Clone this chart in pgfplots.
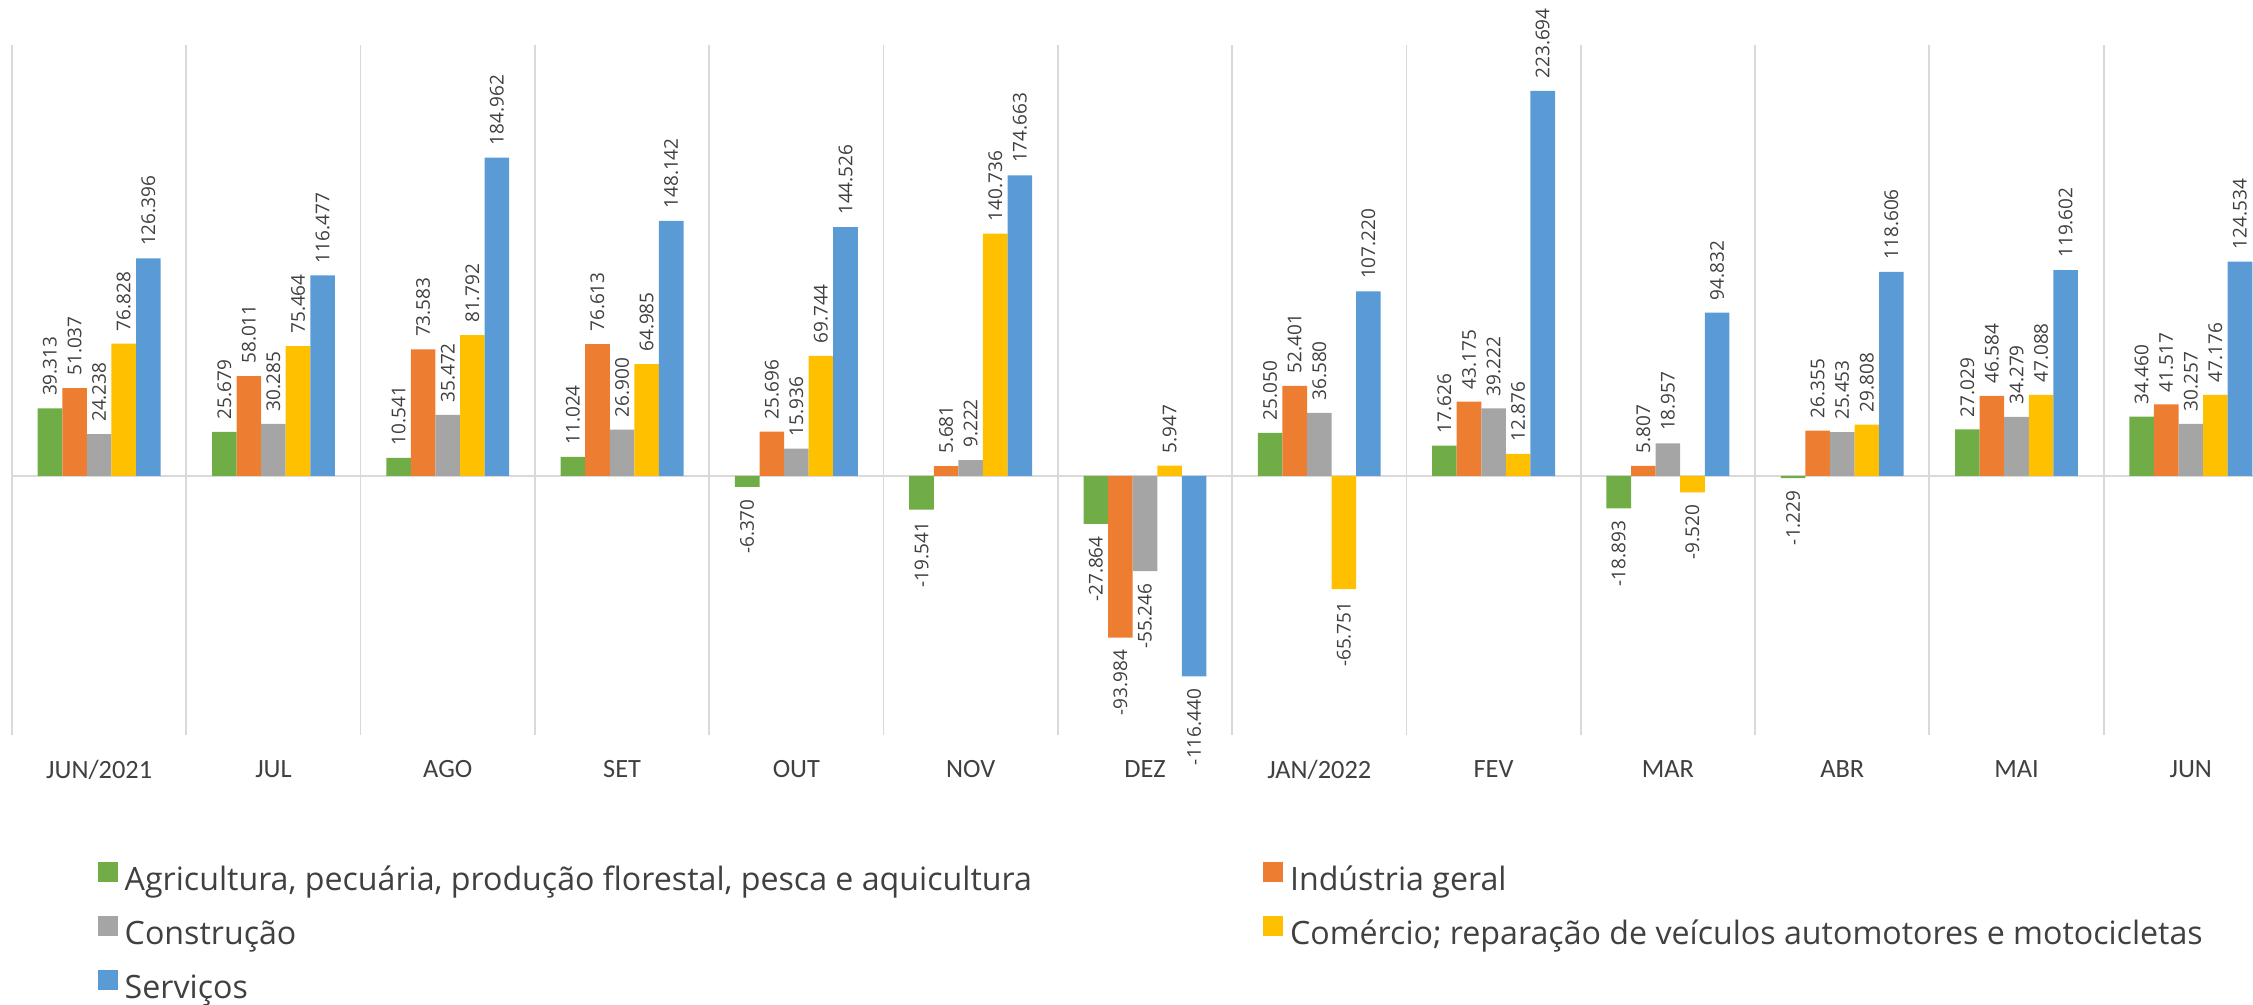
\documentclass[border=0pt]{standalone}
\usepackage{pgfplots}
\pgfplotsset{compat=1.18}
\usepackage{fontspec}
\setmainfont{Carlito}
\newfontfamily\opensans{Open Sans}
\definecolor{cAgr}{HTML}{70AD47}
\definecolor{cInd}{HTML}{ED7D31}
\definecolor{cCon}{HTML}{A5A5A5}
\definecolor{cCom}{HTML}{FFC000}
\definecolor{cSer}{HTML}{5B9BD5}
\definecolor{gridc}{HTML}{D9D9D9}
\definecolor{txtc}{HTML}{404040}
\begin{document}
\begin{tikzpicture}
\useasboundingbox (-0.12,-2.70) rectangle (22.41,7.35);
\begin{axis}[
    at={(0,0)}, anchor=south west,
    scale only axis,
    width=22.44cm, height=6.9cm,
    xmin=-0.5, xmax=12.374,
    ymin=-150.5, ymax=250.4,
    ybar=0pt,
    bar width=0.141,
    axis line style={draw=none},
    major tick length=0pt, minor tick length=0pt,
    xtick={0,...,12},
    xticklabels={JUN/2021,JUL,AGO,SET,OUT,NOV,DEZ,JAN/2022,FEV,MAR,ABR,MAI,JUN},
    xticklabel style={font=\fontsize{7.5}{9}\selectfont, text=txtc, yshift=-0.13cm},
    ytick=\empty,
    minor xtick={-0.5,0.5,...,12.5},
    xminorgrids,
    minor grid style={draw=gridc, line width=0.5pt},
    extra y ticks={0}, extra y tick labels={},
    extra y tick style={grid=major},
    major grid style={draw=gridc, line width=0.7pt},
    visualization depends on={rawy \as \rawy},
    nodes near coords,
    every node near coord/.append style={
        rotate=90,
        anchor={\ifdim\rawy pt<0pt east\else west\fi},
        font=\opensans\fontsize{5.4}{6.5}\selectfont, text=txtc,
        /pgf/number format/.cd, fixed, fixed zerofill, precision=3,
        assume math mode=true,
    },
    legend columns=2,
    legend cell align=left,
    legend image code/.code={\fill[#1] (0cm,0cm) rectangle (0.2cm,0.2cm);},
    legend style={draw=none, fill=none, at={(0,0)}, anchor=north west,
        xshift=0.85cm, yshift=-1.26cm, inner sep=0pt,
        font=\opensans\fontsize{9.15}{10.5}\selectfont, text=txtc,
        nodes={inner ysep=0pt, text height=0.25cm, text depth=0.07cm},
        row sep=0.18cm,
        /tikz/every even column/.append style={column sep=2.24cm}},
]
\addplot[draw=none, fill=cAgr] coordinates {
    (0,39.313) (1,25.679) (2,10.541) (3,11.024) (4,-6.370) (5,-19.541) (6,-27.864)
    (7,25.050) (8,17.626) (9,-18.893) (10,-1.229) (11,27.029) (12,34.460)};
\addlegendentry{Agricultura, pecuária, produção florestal, pesca e aquicultura}
\addplot[draw=none, fill=cInd] coordinates {
    (0,51.037) (1,58.011) (2,73.583) (3,76.613) (4,25.696) (5,5.681) (6,-93.984)
    (7,52.401) (8,43.175) (9,5.807) (10,26.355) (11,46.584) (12,41.517)};
\addlegendentry{Indústria geral}
\addplot[draw=none, fill=cCon] coordinates {
    (0,24.238) (1,30.285) (2,35.472) (3,26.900) (4,15.936) (5,9.222) (6,-55.246)
    (7,36.580) (8,39.222) (9,18.957) (10,25.453) (11,34.279) (12,30.257)};
\addlegendentry{Construção}
\addplot[draw=none, fill=cCom] coordinates {
    (0,76.828) (1,75.464) (2,81.792) (3,64.985) (4,69.744) (5,140.736) (6,5.947)
    (7,-65.751) (8,12.876) (9,-9.520) (10,29.808) (11,47.088) (12,47.176)};
\addlegendentry{Comércio; reparação de veículos automotores e motocicletas}
\addplot[draw=none, fill=cSer] coordinates {
    (0,126.396) (1,116.477) (2,184.962) (3,148.142) (4,144.526) (5,174.663) (6,-116.440)
    (7,107.220) (8,223.694) (9,94.832) (10,118.606) (11,119.602) (12,124.534)};
\addlegendentry{Serviços}
\end{axis}
\end{tikzpicture}
\end{document}
